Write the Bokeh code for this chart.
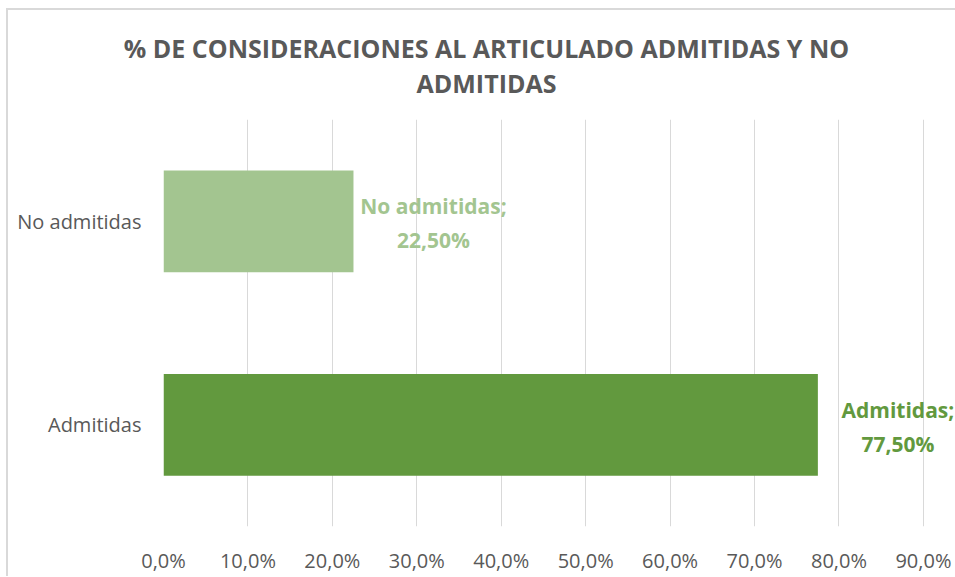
from bokeh.plotting import figure
from bokeh.models import FactorRange, Range1d, FixedTicker, ColumnDataSource, Div
from bokeh.layouts import column
from bokeh.core.properties import value
from bokeh.embed import file_html
from bokeh.resources import INLINE

categories = ["Admitidas", "No admitidas"]
values = [77.5, 22.5]
label_names = ["Admitidas;", "No admitidas;"]
label_values = ["77,50%", "22,50%"]
bar_colors = ["#62993E", "#A3C590"]
ticks = [0, 10, 20, 30, 40, 50, 60, 70, 80, 90]
tick_labels = ["0,0%", "10,0%", "20,0%", "30,0%", "40,0%", "50,0%", "60,0%", "70,0%", "80,0%", "90,0%"]
title_lines = ["% DE CONSIDERACIONES AL ARTICULADO ADMITIDAS Y NO", "ADMITIDAS"]

FONT = "Open Sans"
GRAY = "#595959"

src = ColumnDataSource(dict(cat=categories, val=values, name=label_names,
                            pct=label_values, color=bar_colors))

title_html = (
    "<div style=\"font-family:'Open Sans';font-size:25px;font-weight:bold;"
    f"color:{GRAY};text-align:center;line-height:34.5px;width:947px;"
    "box-sizing:border-box;padding-left:10px;padding-top:21px;margin:0;\">"
    + "<br>".join(title_lines) + "</div>"
)
title_div = Div(text=title_html, width=947, height=109, margin=0)

p = figure(width=947, height=457, output_backend="svg", toolbar_location=None,
           y_range=FactorRange(*categories, range_padding=0),
           x_range=Range1d(0, 93.8),
           min_border_left=155, min_border_right=0, min_border_top=0,
           min_border_bottom=46, margin=0)
p.title = None
p.outline_line_color = None
p.background_fill_color = "white"
p.border_fill_color = "white"

p.hbar(y="cat", right="val", left=0, height=0.5, color="color", source=src,
       line_color=None)

for col, yoff in (("name", -15), ("pct", 19)):
    p.text(x="val", y="cat", text=col, source=src, x_offset=80, y_offset=yoff,
           text_align="center", text_baseline="middle",
           text_font=value(FONT), text_font_size="21px",
           text_font_style="bold", text_color="color")

p.xaxis.ticker = FixedTicker(ticks=ticks)
p.xaxis.major_label_overrides = {t: l for t, l in zip(ticks, tick_labels)}
p.xgrid.ticker = FixedTicker(ticks=ticks)
p.xgrid.grid_line_color = "#D9D9D9"
p.xgrid.grid_line_width = 1
p.ygrid.grid_line_color = None

for ax in (p.xaxis, p.yaxis):
    ax.axis_line_color = None
    ax.major_tick_line_color = None
    ax.minor_tick_line_color = None
    ax.major_label_text_font = FONT
    ax.major_label_text_font_size = "20px"
    ax.major_label_text_color = GRAY
p.xaxis.major_label_standoff = 14
p.yaxis.major_label_standoff = 16

layout = column(title_div, p, spacing=0)
layout.styles = {"margin-left": "6px", "margin-top": "8px",
                 "border-left": "2px solid #D9D9D9", "border-top": "2px solid #D9D9D9",
                 "background-color": "white"}

open("out.html", "w").write(file_html(layout, INLINE))
